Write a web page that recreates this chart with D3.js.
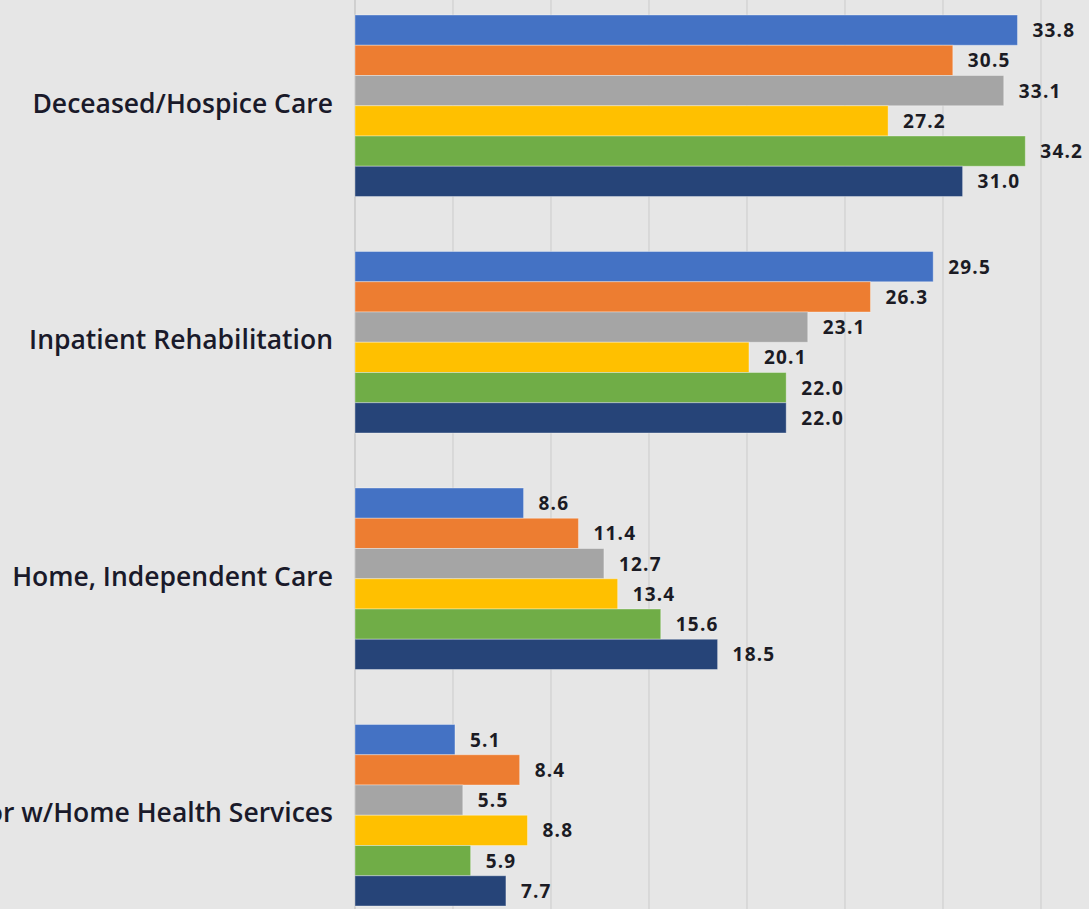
<!DOCTYPE html>
<html>
<head>
<meta charset="utf-8">
<script src="https://cdn.jsdelivr.net/npm/d3@7"></script>
<style>
  html, body { margin: 0; padding: 0; background: #e6e6e6; overflow: hidden; }
  svg { display: block; }
</style>
</head>
<body>
<div id="chart"></div>
<script>
// categories top to bottom
var categories = [
    "Deceased/Hospice Care",
    "Inpatient Rehabilitation",
    "Home, Independent Care",
    "Home or w/Home Health Services"
];
// six series (one bar per series inside each category)
var series = ["2014", "2015", "2016", "2017", "2018", "2019"];
var seriesColors = ["#4472c4", "#ed7d31", "#a5a5a5", "#ffc000", "#70ad47", "#264478"];

// values per series, in category order
var s2014 = [33.8, 29.5, 8.6, 5.1];
var s2015 = [30.5, 26.3, 11.4, 8.4];
var s2016 = [33.1, 23.1, 12.7, 5.5];
var s2017 = [27.2, 20.1, 13.4, 8.8];
var s2018 = [34.2, 22.0, 15.6, 5.9];
var s2019 = [31.0, 22.0, 18.5, 7.7];
var values = [s2014, s2015, s2016, s2017, s2018, s2019];

var gridTicks = [0, 5, 10, 15, 20, 25, 30, 35, 40];

var width = 1089, height = 909;

var svg = d3.select("#chart").append("svg")
    .attr("width", width)
    .attr("height", height);

svg.append("rect")
    .attr("width", width).attr("height", height)
    .attr("fill", "#e6e6e6");

var x = d3.scaleLinear()
    .domain([0, 40])
    .range([355, 355 + 19.6 * 40]);

var y = d3.scaleBand()
    .domain(categories)
    .range([15, 906])
    .paddingInner(0.2326)
    .paddingOuter(0);

var ySub = d3.scaleBand()
    .domain(series)
    .range([0, y.bandwidth()])
    .padding(0);

// vertical gridlines
svg.append("g")
    .selectAll("line")
    .data(gridTicks)
    .enter().append("line")
    .attr("x1", function (d) { return x(d); })
    .attr("x2", function (d) { return x(d); })
    .attr("y1", 0)
    .attr("y2", height)
    .attr("stroke", function (d) { return d === 0 ? "#c4c4c4" : "#d2d2d2"; })
    .attr("stroke-width", 1.3);

// flatten into rows
var rows = [];
categories.forEach(function (c, ci) {
    series.forEach(function (s, si) {
        rows.push({ cat: c, ser: s, si: si, value: values[si][ci] });
    });
});

var bars = svg.append("g");

bars.selectAll("rect")
    .data(rows)
    .enter().append("rect")
    .attr("x", x(0))
    .attr("y", function (d) { return y(d.cat) + ySub(d.ser); })
    .attr("width", function (d) { return x(d.value) - x(0); })
    .attr("height", ySub.bandwidth())
    .attr("fill", function (d) { return seriesColors[d.si]; })
    .attr("stroke", "rgba(255,255,255,0.35)")
    .attr("stroke-width", 1);

// value labels
bars.selectAll("text")
    .data(rows)
    .enter().append("text")
    .attr("x", function (d) { return x(d.value) + 15; })
    .attr("y", function (d) { return y(d.cat) + ySub(d.ser) + ySub.bandwidth() / 2 + 2; })
    .attr("dominant-baseline", "middle")
    .attr("font-family", "'Open Sans', sans-serif")
    .attr("font-weight", "bold")
    .attr("font-size", 19)
    .attr("letter-spacing", 1.2)
    .attr("fill", "#1b1b24")
    .text(function (d) { return d.value.toFixed(1); });

// category labels
svg.append("g")
    .selectAll("text")
    .data(categories)
    .enter().append("text")
    .attr("x", 333)
    .attr("y", function (d) { return y(d) + y.bandwidth() / 2; })
    .attr("text-anchor", "end")
    .attr("dominant-baseline", "middle")
    .attr("font-family", "'Open Sans', sans-serif")
    .attr("font-weight", 600)
    .attr("font-size", 26.5)
    .attr("fill", "#1a1a2a")
    .text(function (d) { return d; });
</script>
</body>
</html>
